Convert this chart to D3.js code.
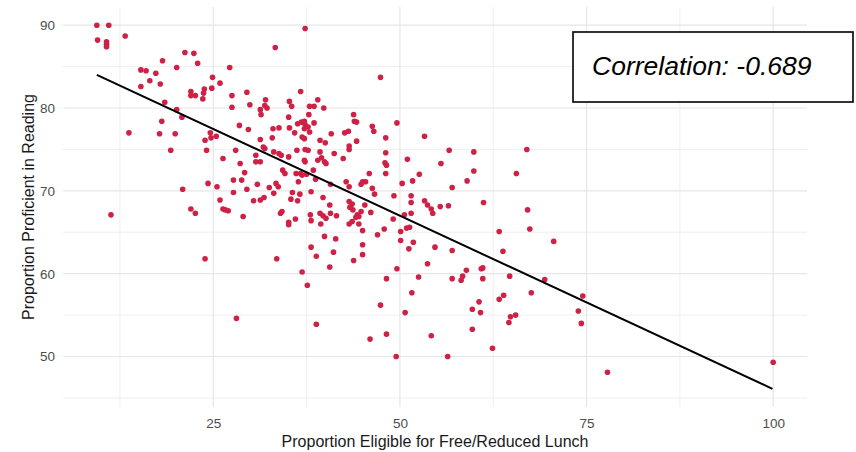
<!DOCTYPE html>
<html>
<head>
<meta charset="utf-8">
<script src="https://cdn.jsdelivr.net/npm/d3@7"></script>
<style>
  body { margin: 0; background: #fff; }
  text { font-family: "Liberation Sans", Arial, sans-serif; }
</style>
</head>
<body>
<div id="chart"></div>
<script>
// proportion eligible for free/reduced lunch (x) and proportion proficient in reading (y)
var eligible = [
    9.4, 11.0, 9.5, 10.7, 10.7, 10.7, 13.2, 37.3, 33.3, 21.2,
    22.4, 18.2, 22.9, 20.1, 27.2, 15.3, 16.0, 17.3, 24.9, 16.5,
    25.9, 17.9, 15.3, 24.8, 23.8, 22.0, 29.5, 23.7, 22.0, 22.6,
    27.5, 23.6, 32.0, 35.2, 18.5, 29.9, 31.9, 35.5, 27.5, 32.2,
    31.3, 20.1, 31.4, 35.1, 20.8, 18.1, 36.3, 28.5, 33.8, 33.0,
    29.7, 35.2, 13.7, 17.8, 19.9, 24.6, 35.9, 25.4, 24.7, 32.9,
    31.3, 23.9, 31.7, 31.9, 19.3, 24.1, 28.0, 33.1, 33.8, 34.1,
    36.2, 30.7, 35.1, 26.3, 30.7, 31.3, 28.6, 34.3, 34.6, 29.2,
    36.1,
    27.7, 28.8, 24.3, 25.5, 20.9, 27.7, 29.5, 30.9, 32.5, 33.4,
    33.7, 33.1, 35.6, 36.4, 25.9, 30.4, 31.3, 31.8, 35.4, 36.3,
    22.0, 22.6, 26.3, 26.6, 27.0, 29.0, 34.0, 34.2, 35.1, 35.1,
    36.0, 11.3, 23.9, 33.5, 28.1,
    36.7, 39.0, 37.9, 38.5, 39.8, 37.8, 36.8, 37.2, 37.3, 37.2,
    37.7, 38.5, 37.9, 37.2, 36.9, 39.3, 40.0, 40.8, 42.6, 43.1,
    43.8, 43.9, 44.2, 46.3, 46.5, 44.2, 43.2, 43.2, 47.4, 49.6,
    48.1, 53.3, 56.6, 59.9, 59.9, 55.5, 51.0, 52.6, 48.1, 48.0,
    48.2, 48.1, 41.2, 42.4, 39.3, 39.0, 39.5, 39.9, 40.1, 37.3,
    37.7, 37.2, 37.3, 38.4, 36.7, 36.9, 37.5, 45.9, 67.0, 65.6,
    38.7, 40.7, 42.8, 43.2, 44.8, 45.0, 45.4, 46.3, 46.6, 50.3,
    51.7, 57.0, 59.0, 38.1, 36.6, 39.7, 40.6, 43.2, 43.6, 43.3,
    43.7, 45.3, 46.1, 44.8, 44.3, 44.5, 44.1, 49.2, 51.5, 51.5,
    53.3, 53.7, 54.2, 54.4, 55.4, 56.5, 61.2, 67.1, 67.4, 63.3,
    63.8, 64.7, 67.6, 63.3, 63.9, 64.6, 64.8, 65.5, 62.4, 69.4,
    60.9, 61.1, 61.1, 60.6, 60.8, 59.7, 59.7, 58.9, 58.4, 58.2,
    57.0, 57.0, 54.7, 53.7, 52.5, 51.6, 50.7, 54.2, 56.4, 49.5,
    48.2, 46.0, 47.4, 48.2, 49.6, 50.1, 50.1, 49.1, 50.6, 51.5,
    50.9, 51.3, 51.8, 51.2, 47.9, 47.0, 45.0, 45.0, 43.8, 43.2,
    43.6, 44.5, 45.0, 41.4, 41.1, 39.9, 39.4, 38.0, 38.1, 39.3,
    39.7, 40.1, 40.7, 41.5, 38.1, 38.8, 40.6, 36.9, 37.6, 38.8,
    70.6, 74.5, 73.9, 74.3, 77.8, 100.0
];

var proficient = [
    90.0, 90.0, 88.2, 88.0, 87.7, 87.4, 88.7, 89.6, 87.3, 86.7,
    86.6, 85.7, 85.4, 84.9, 84.9, 84.6, 84.5, 84.2, 83.7, 83.3,
    83.0, 82.9, 82.6, 82.4, 82.3, 82.0, 81.9, 81.8, 81.5, 81.5,
    81.5, 81.1, 81.0, 80.8, 80.7, 80.4, 80.3, 80.2, 80.1, 80.0,
    79.8, 79.8, 79.2, 78.9, 78.9, 78.4, 78.1, 77.9, 77.6, 77.5,
    77.4, 77.6, 77.0, 76.9, 76.9, 77.0, 77.0, 76.6, 76.4, 76.4,
    76.2, 76.1, 75.3, 75.1, 74.9, 74.9, 74.9, 74.7, 74.5, 74.3,
    74.9, 74.3, 74.1, 73.9, 73.5, 73.5, 73.3, 72.5, 72.1, 72.2,
    72.1,
    71.3, 71.3, 70.9, 70.5, 70.2, 69.8, 70.2, 70.8, 70.4, 70.9,
    70.5, 69.7, 69.8, 71.1, 68.9, 68.8, 68.9, 69.2, 69.0, 68.8,
    67.8, 67.3, 67.8, 67.7, 67.6, 66.9, 67.3, 67.5, 66.2, 65.9,
    66.6, 67.1, 61.8, 61.8, 54.6,
    82.0, 81.0, 80.2, 80.2, 80.0, 79.2, 78.3, 78.4, 78.0, 77.5,
    77.7, 78.2, 77.1, 76.3, 76.5, 76.1, 75.8, 76.9, 77.0, 77.2,
    79.2, 78.4, 78.3, 77.8, 77.2, 76.0, 75.4, 75.0, 83.7, 78.2,
    76.4, 76.6, 74.9, 74.7, 72.4, 73.3, 73.8, 72.0, 74.6, 73.4,
    73.1, 72.1, 74.5, 73.9, 74.7, 73.7, 74.0, 73.5, 73.3, 75.0,
    74.9, 73.7, 73.5, 72.5, 72.1, 71.9, 72.0, 72.1, 75.0, 72.1,
    71.4, 70.8, 71.1, 70.5, 70.8, 71.1, 71.1, 70.3, 69.6, 70.9,
    71.2, 70.4, 71.2, 69.9, 69.6, 69.2, 68.3, 68.7, 68.4, 68.0,
    67.7, 68.3, 67.4, 67.5, 67.1, 66.9, 66.8, 69.4, 69.4, 68.6,
    68.8, 68.3, 67.8, 67.3, 68.1, 68.2, 68.6, 67.7, 65.4, 65.1,
    62.7, 59.7, 57.7, 56.9, 57.4, 54.1, 54.8, 55.0, 51.0, 59.3,
    60.6, 60.7, 59.4, 56.6, 55.3, 55.7, 53.3, 60.4, 59.7, 59.2,
    62.8, 59.4, 63.2, 61.2, 59.6, 57.7, 55.3, 52.5, 50.0, 50.0,
    52.7, 52.1, 56.2, 59.4, 60.6, 65.1, 64.0, 66.6, 67.1, 67.3,
    65.5, 65.6, 63.8, 63.0, 65.4, 64.7, 63.5, 62.3, 61.6, 66.0,
    66.3, 66.0, 65.2, 64.2, 62.6, 64.5, 66.0, 67.1, 66.4, 67.3,
    67.0, 66.7, 67.3, 67.0, 63.2, 62.1, 60.8, 60.2, 58.6, 53.9,
    63.9, 57.3, 55.5, 54.0, 48.1, 49.3
];

// ends of the fitted (lm) line
var fitX = [9.4, 99.9];
var fitY = [84.0, 46.1];

var xTicks = [25, 50, 75, 100];
var xMinor = [12.5, 37.5, 62.5, 87.5];
var yTicks = [50, 60, 70, 80, 90];
var yMinor = [45, 55, 65, 75, 85];

var corrLabel = "Correlation: -0.689";

var points = eligible.map(function(d, i) { return {x: d, y: proficient[i]}; });
var fit = fitX.map(function(d, i) { return {x: d, y: fitY[i]}; });

var W = 856, H = 452;
var panel = {left: 63, right: 807, top: 7, bottom: 407};

var svg = d3.select('#chart')
    .append('svg')
    .attr('width', W)
    .attr('height', H);

// ggplot style 5% expansion
function expand(ext) {
    var pad = (ext[1] - ext[0]) * 0.05;
    return [ext[0] - pad, ext[1] + pad];
}

var xScale = d3.scaleLinear()
    .domain(expand(d3.extent(eligible)))
    .range([panel.left, panel.right]);

var yScale = d3.scaleLinear()
    .domain(expand([d3.min(proficient.concat(fitY)), d3.max(proficient.concat(fitY))]))
    .range([panel.bottom, panel.top]);

// grid
var grid = svg.append('g').attr('class', 'grid');

grid.selectAll('.hminor')
    .data(yMinor).enter()
    .append('line')
    .attr('x1', panel.left).attr('x2', panel.right)
    .attr('y1', function(d) { return yScale(d); })
    .attr('y2', function(d) { return yScale(d); })
    .attr('stroke', '#efefef').attr('stroke-width', 1);

grid.selectAll('.vminor')
    .data(xMinor).enter()
    .append('line')
    .attr('y1', panel.top).attr('y2', panel.bottom)
    .attr('x1', function(d) { return xScale(d); })
    .attr('x2', function(d) { return xScale(d); })
    .attr('stroke', '#efefef').attr('stroke-width', 1);

grid.selectAll('.hmajor')
    .data(yTicks).enter()
    .append('line')
    .attr('x1', panel.left).attr('x2', panel.right)
    .attr('y1', function(d) { return yScale(d); })
    .attr('y2', function(d) { return yScale(d); })
    .attr('stroke', '#e6e6e6').attr('stroke-width', 1.2);

grid.selectAll('.vmajor')
    .data(xTicks).enter()
    .append('line')
    .attr('y1', panel.top).attr('y2', panel.bottom)
    .attr('x1', function(d) { return xScale(d); })
    .attr('x2', function(d) { return xScale(d); })
    .attr('stroke', '#e6e6e6').attr('stroke-width', 1.2);

// axes (labels only)
var xAxis = d3.axisBottom(xScale).tickValues(xTicks).tickSize(0).tickPadding(11);
var yAxis = d3.axisLeft(yScale).tickValues(yTicks).tickSize(0).tickPadding(8);

var gx = svg.append('g')
    .attr('transform', `translate(0,${panel.bottom})`)
    .call(xAxis);
var gy = svg.append('g')
    .attr('transform', `translate(${panel.left},0)`)
    .call(yAxis);

[gx, gy].forEach(function(g) {
    g.select('.domain').remove();
    g.selectAll('text')
        .style('font-family', '"Liberation Sans", Arial, sans-serif')
        .style('font-size', '13.5px')
        .attr('fill', '#4d4d4d');
});

// points
svg.append('g')
    .selectAll('circle')
    .data(points).enter()
    .append('circle')
    .attr('cx', function(d) { return xScale(d.x); })
    .attr('cy', function(d) { return yScale(d.y); })
    .attr('r', 2.8)
    .attr('fill', '#cf2045');

// fitted line
var line = d3.line()
    .x(function(d) { return xScale(d.x); })
    .y(function(d) { return yScale(d.y); });

svg.append('path')
    .datum(fit)
    .attr('d', line)
    .attr('fill', 'none')
    .attr('stroke', '#000')
    .attr('stroke-width', 2);

// axis titles
svg.append('text')
    .attr('x', (panel.left + panel.right) / 2)
    .attr('y', 447)
    .attr('text-anchor', 'middle')
    .style('font-size', '16px')
    .attr('fill', '#1a1a1a')
    .text('Proportion Eligible for Free/Reduced Lunch');

svg.append('text')
    .attr('transform', `translate(34,${(panel.top + panel.bottom) / 2}) rotate(-90)`)
    .attr('text-anchor', 'middle')
    .style('font-size', '16px')
    .attr('fill', '#1a1a1a')
    .text('Proportion Proficient in Reading');

// correlation box
svg.append('rect')
    .attr('x', 573)
    .attr('y', 32)
    .attr('width', 280)
    .attr('height', 70)
    .attr('fill', '#fff')
    .attr('stroke', '#000')
    .attr('stroke-width', 1.6);

svg.append('text')
    .attr('x', 592)
    .attr('y', 75)
    .style('font-size', '26.5px')
    .style('font-style', 'italic')
    .attr('fill', '#000')
    .text(corrLabel);
</script>
</body>
</html>
